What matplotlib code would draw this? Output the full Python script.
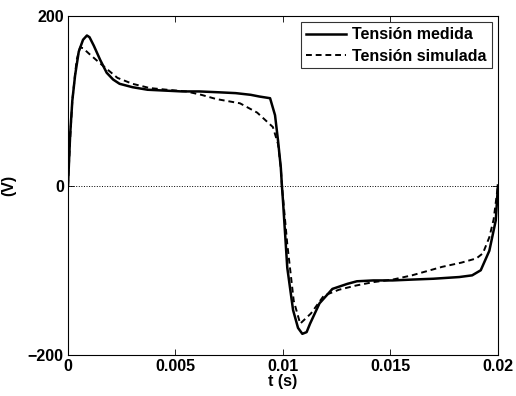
import matplotlib.pyplot as plt

plt.rcParams['font.family'] = 'Liberation Sans'
plt.rcParams['font.weight'] = 'bold'

# Tension medida (solid)
t_med = [0, 0.0001, 0.0002, 0.00033, 0.0005, 0.0007, 0.00088, 0.001, 0.0012, 0.0015,
         0.0018, 0.0021, 0.0024, 0.003, 0.0037, 0.0045, 0.0053, 0.0061, 0.007, 0.0078,
         0.0085, 0.0089, 0.0094, 0.00963, 0.00977, 0.0099, 0.00995, 0.0100, 0.0102,
         0.01047, 0.0107, 0.0109, 0.0111, 0.01126, 0.0117, 0.0123, 0.013, 0.01344, 0.0142,
         0.0151, 0.016, 0.017, 0.0182, 0.0188, 0.0192, 0.0196, 0.0199, 0.02]
v_med = [0, 60, 100, 130, 158, 172, 177, 175, 165, 148,
         133, 125, 120, 116, 113, 112, 111, 111, 110, 109,
         107, 105, 103, 83, 53, 21, 0, -18, -97,
         -147, -168, -175, -173, -163, -139, -122, -116, -113, -112,
         -112, -111, -110, -108, -106, -100, -77, -41, 0]

# Tension simulada (dashed)
t_sim = [0, 0.0001, 0.0002, 0.0004, 0.00056, 0.0007, 0.001, 0.0015, 0.0023, 0.003,
         0.0038, 0.0046, 0.0055, 0.0062, 0.0069, 0.008, 0.0088, 0.00953, 0.00977, 0.0099,
         0.00995, 0.0102, 0.0105, 0.0108, 0.0113, 0.0119, 0.0126, 0.0134, 0.0142, 0.0151,
         0.016, 0.0174, 0.0183, 0.019, 0.0193, 0.0196, 0.0198, 0.02]
v_sim = [0, 55, 100, 148, 163, 162, 155, 144, 127, 120,
         115, 113, 111, 107, 102, 97, 86, 69, 49, 21,
         0, -69, -136, -163, -151, -130, -123, -118, -114, -111,
         -106, -96, -91, -86, -80, -61, -40, 0]

fig = plt.figure(figsize=(5.16, 3.96), dpi=100)
ax = fig.add_axes([0.1318, 0.1035, 0.8332, 0.8561])

ax.plot(t_med, v_med, color='black', lw=1.8, label='Tensión medida')
ax.plot(t_sim, v_sim, color='black', lw=1.4, ls='--', dashes=(3, 2), label='Tensión simulada')
ax.axhline(0, color='black', lw=0.7, ls=':')

ax.set_xlim(0, 0.02)
ax.set_ylim(-200, 200)
ax.set_xticks([0, 0.005, 0.01, 0.015, 0.02])
ax.set_xticklabels(['0', '0.005', '0.01', '0.015', '0.02'])
ax.set_yticks([-200, 0, 200])
ax.tick_params(direction='in', top=True, right=True, labelsize=11.5, length=4, width=0.6, pad=3)
for s in ax.spines.values():
    s.set_linewidth(0.8)
ax.set_xlabel('t (s)', fontsize=11.5, fontweight='bold', labelpad=0)
ax.set_ylabel('(V)', fontsize=11.5, fontweight='bold', labelpad=8)

leg = ax.legend(loc='upper right', fontsize=11.5, frameon=True, fancybox=False,
                edgecolor='black', handlelength=2.5, borderpad=0.3, labelspacing=0.4,
                handletextpad=0.4, borderaxespad=0.4)
leg.get_frame().set_linewidth(0.8)

fig.savefig('out.png', dpi=100)
